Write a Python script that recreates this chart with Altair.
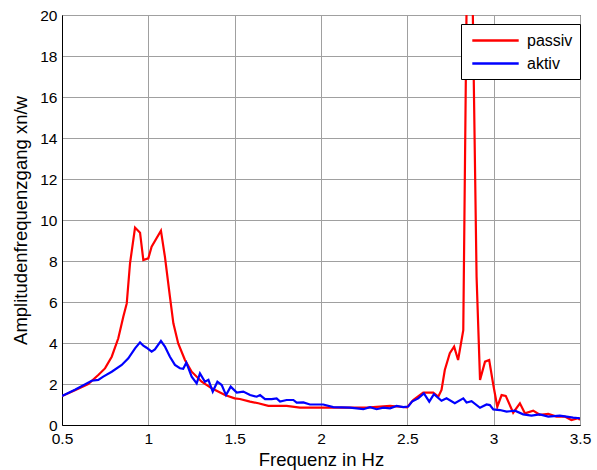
import altair as alt
import pandas as pd

# passiv (red)
freq_passiv = [0.5, 0.575, 0.652, 0.71, 0.749, 0.788, 0.826, 0.855, 0.875, 0.894,
               0.923, 0.952, 0.971, 1.0, 1.019, 1.073, 1.096, 1.125, 1.145, 1.173,
               1.212, 1.251, 1.309, 1.367, 1.444, 1.5, 1.53, 1.589, 1.637, 1.695,
               1.801, 1.878, 2.071, 2.264, 2.4, 2.459, 2.498, 2.534, 2.592, 2.65,
               2.679, 2.698, 2.717, 2.746, 2.771, 2.794, 2.824, 2.845, 2.862, 2.876,
               2.901, 2.921, 2.95, 2.974, 2.998, 3.021, 3.046, 3.07, 3.113, 3.152,
               3.181, 3.229, 3.267, 3.316, 3.364, 3.412, 3.45, 3.49, 3.5]
val_passiv = [1.41, 1.7, 2.0, 2.44, 2.76, 3.33, 4.23, 5.28, 5.93, 7.89,
              9.63, 9.38, 8.05, 8.13, 8.7, 9.48, 8.21, 6.26, 4.96, 3.98,
              3.17, 2.6, 2.11, 1.79, 1.46, 1.30, 1.27, 1.14, 1.06, 0.93,
              0.93, 0.85, 0.85, 0.85, 0.93, 0.89, 0.86, 1.22, 1.58, 1.58,
              1.38, 1.71, 2.68, 3.5, 3.82, 3.17, 4.63, 22.0, 30.0, 22.0,
              7.23, 2.2, 3.09, 3.17, 1.95, 0.89, 1.46, 1.42, 0.6, 1.06,
              0.57, 0.7, 0.5, 0.54, 0.41, 0.41, 0.24, 0.33, 0.24]

# aktiv (blue)
freq_aktiv = [0.5, 0.575, 0.672, 0.71, 0.739, 0.788, 0.846, 0.884, 0.923, 0.952,
              0.971, 0.99, 1.019, 1.038, 1.073, 1.096, 1.125, 1.154, 1.183, 1.202,
              1.22, 1.251, 1.28, 1.299, 1.328, 1.348, 1.373, 1.4, 1.425, 1.45,
              1.477, 1.512, 1.55, 1.589, 1.628, 1.647, 1.676, 1.714, 1.743, 1.763,
              1.801, 1.84, 1.859, 1.898, 1.936, 2.013, 2.071, 2.168, 2.245, 2.284,
              2.322, 2.361, 2.4, 2.438, 2.476, 2.505, 2.527, 2.563, 2.596, 2.627,
              2.654, 2.698, 2.727, 2.775, 2.824, 2.843, 2.872, 2.921, 2.959, 2.978,
              2.998, 3.036, 3.075, 3.123, 3.171, 3.219, 3.267, 3.316, 3.383, 3.46, 3.5]
val_aktiv = [1.41, 1.72, 2.16, 2.2, 2.36, 2.6, 2.93, 3.25, 3.74, 4.03,
             3.87, 3.77, 3.58, 3.69, 4.1, 3.83, 3.33, 2.93, 2.77, 2.74,
             3.04, 2.36, 2.03, 2.52, 2.11, 2.2, 1.63, 2.11, 1.95, 1.46,
             1.87, 1.58, 1.63, 1.46, 1.38, 1.46, 1.26, 1.26, 1.30, 1.14,
             1.22, 1.22, 1.09, 1.1, 1.0, 1.0, 0.87, 0.85, 0.77, 0.87,
             0.77, 0.85, 0.81, 0.93, 0.87, 0.9, 1.14, 1.3, 1.54, 1.14,
             1.5, 1.18, 1.3, 1.06, 1.3, 1.1, 1.16, 0.84, 1.0, 0.97,
             0.76, 0.73, 0.65, 0.7, 0.52, 0.46, 0.52, 0.41, 0.46, 0.36, 0.33]

series_names = ["passiv", "aktiv"]
series_colors = ["#ff0000", "#0000ff"]
x_ticks = [0.5, 1.0, 1.5, 2.0, 2.5, 3.0, 3.5]
y_ticks = list(range(0, 21, 2))

df_p = pd.DataFrame({"f": freq_passiv, "v": val_passiv, "s": "passiv", "i": range(len(freq_passiv))})
df_a = pd.DataFrame({"f": freq_aktiv, "v": val_aktiv, "s": "aktiv", "i": range(len(freq_aktiv))})

FONT = "Liberation Sans"

x_enc = alt.X("f:Q", scale=alt.Scale(domain=[0.5, 3.5], nice=False, zero=False),
              axis=alt.Axis(values=x_ticks, format="~g", title="Frequenz in Hz",
                            grid=True, gridColor="#a0a0a0", gridWidth=1,
                            ticks=False, domainColor="black", labelColor="black",
                            labelFontSize=15.5, titleFontSize=18.5, titleFontWeight="normal",
                            labelPadding=6, titlePadding=4, labelFont=FONT, titleFont=FONT,
                            titleColor="black", labelFlush=False))
y_enc = alt.Y("v:Q", scale=alt.Scale(domain=[0, 20], nice=False),
              axis=alt.Axis(values=y_ticks, title="Amplitudenfrequenzgang xn/w",
                            grid=True, gridColor="#a0a0a0", gridWidth=1,
                            ticks=False, domainColor="black", labelColor="black",
                            labelFontSize=15.5, titleFontSize=18.5, titleFontWeight="normal",
                            labelPadding=5, titlePadding=9, labelFont=FONT, titleFont=FONT,
                            titleColor="black", labelFlush=False))
color_enc = alt.Color("s:N", scale=alt.Scale(domain=series_names, range=series_colors),
                      title=None,
                      legend=alt.Legend(orient="none", legendX=399, legendY=9,
                                        fillColor="white", strokeColor="black",
                                        padding=7, symbolType="M-2.9,0L2.9,0",
                                        symbolSize=256, symbolStrokeWidth=2.5,
                                        symbolOffset=18, labelOffset=22,
                                        labelFontSize=16, labelFont=FONT, labelColor="black",
                                        rowPadding=5, cornerRadius=0))

red = alt.Chart(df_p).mark_line(strokeWidth=2.2, clip=True).encode(
    x=x_enc, y=y_enc, color=color_enc, order="i:Q")
blue = alt.Chart(df_a).mark_line(strokeWidth=2.2, clip=True).encode(
    x=x_enc, y=y_enc, color=color_enc, order="i:Q")

chart = alt.layer(red, blue).properties(
    width=518, height=410,
    autosize=alt.AutoSizeParams(type="none"),
    padding={"left": 62, "top": 15, "right": 17, "bottom": 45},
    background="white",
).configure_view(stroke="black", strokeWidth=1)

chart.save("out.html", embed_options={"renderer": "svg", "actions": False})
